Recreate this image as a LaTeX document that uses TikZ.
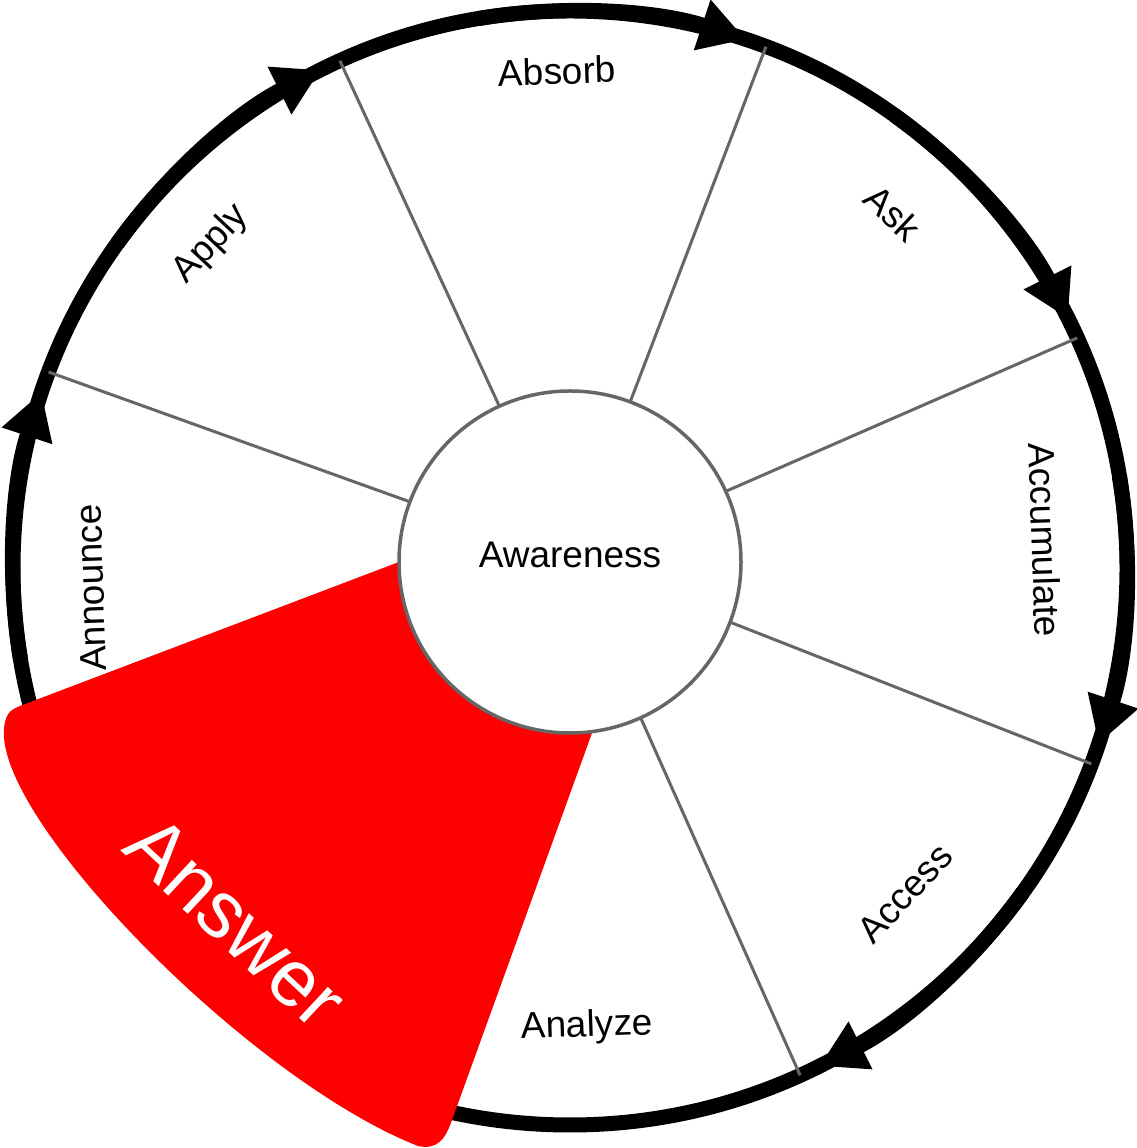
\documentclass[tikz,border=0pt]{standalone}
\usepackage{fontspec}
\setmainfont{Liberation Sans}
\usetikzlibrary{arrows.meta,calc}
\definecolor{divgray}{HTML}{666666}
\definecolor{ansred}{HTML}{FF0000}
\begin{document}
\begin{tikzpicture}[x=1pt,y=1pt,
  ringline/.style={line width=15pt, draw=black},
  ringarrow/.style={ringline, -{Triangle[length=46pt,width=50pt]}},
  divline/.style={line width=3pt, draw=divgray},
  lbl/.style={font=\fontsize{37}{44}\selectfont, inner sep=0pt, text=black},
  biglbl/.style={font=\fontsize{80}{96}\selectfont, inner sep=0pt, text=white},
  hub/.style={circle, draw=divgray, line width=3.5pt, fill=white, minimum size=342pt, inner sep=0pt, font=\fontsize{37}{44}\selectfont}
]
\useasboundingbox (0,0) rectangle (1137,1148);
\coordinate (Ci) at (570,1148-562);
\coordinate (Cr) at (570,1148-568);

% outer ring
\draw[ringline] (Cr) circle[radius=557];

% arrowheads on ring
\foreach \a [count=\i] in {159.4,114.4,69.4,24.4,-20.6,-65.6} {
  \coordinate (as\i) at ($(Cr)+(\a+30:557)$);
  \draw[ringarrow] (as\i) arc[start angle=\a+30, end angle=\a+2.2, radius=557];
}

% dividers
\foreach \a [count=\i] in {159.4,114.4,69.4,24.4,-20.6,-65.6,-110.6,-155.6} {
  \coordinate (di\i) at ($(Ci)+(\a:171)$);
  \coordinate (do\i) at ($(Cr)+(\a:557)$);
  \draw[divline] (di\i) -- (do\i);
}

% sector labels
\node[lbl, rotate=1.9]   (absorb) at (557,1148-71)  {Absorb};
\node[lbl, rotate=-43.1] (ask)    at (893,1148-213) {Ask};
\node[lbl, rotate=-88.1] (accum)  at (1045,1148-540) {Accumulate};
\node[lbl, rotate=46.9]  (access) at (905,1148-893) {Access};
\node[lbl, rotate=1.9]   (analyze) at (587,1148-1027) {Analyze};
\node[lbl, rotate=91.9]  (announce) at (91,1148-588) {Announce};
\node[lbl, rotate=46.9]  (apply)  at (211,1148-244) {Apply};

% highlighted sector
\coordinate (rs) at ($(Ci)+(180:171)$);
\fill[ansred] (592,1148-733) -- (452,1148-1120)
  .. controls (445,1148-1140) and (437,1148-1150) .. (418,1148-1146)
  .. controls (250,1148-1080) and (-5,1148-820) .. (4,1148-728)
  .. controls (6,1148-712) and (11,1148-710) .. (20,1148-706)
  -- (rs) arc[start angle=180, end angle=277.3, radius=171] -- cycle;
\node[biglbl, rotate=-43.1] (answer) at (236,1148-922) {Answer};

% hub
\node[hub] (aware) at (Ci) {};
\node[lbl] (awaretxt) at (570,1148-555) {Awareness};
\end{tikzpicture}
\end{document}
